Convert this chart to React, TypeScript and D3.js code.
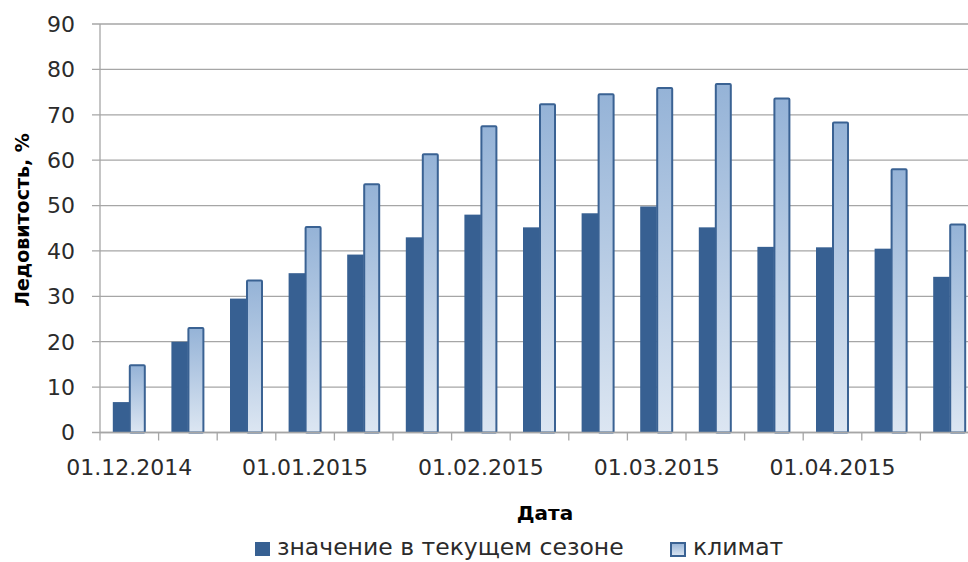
import React from "react";
import * as d3 from "d3";

// dekads (10-day periods), labelled every 3rd
const categories = [
  "01.12.2014", "11.12.2014", "21.12.2014",
  "01.01.2015", "11.01.2015", "21.01.2015",
  "01.02.2015", "11.02.2015", "21.02.2015",
  "01.03.2015", "11.03.2015", "21.03.2015",
  "01.04.2015", "11.04.2015", "21.04.2015",
];
const current = [6.7, 20, 29.5, 35.1, 39.2, 43, 48, 45.2, 48.3, 49.8, 45.2, 40.9, 40.8, 40.5, 34.3];
const climate = [14.8, 23, 33.5, 45.3, 54.7, 61.3, 67.5, 72.3, 74.5, 75.9, 76.8, 73.6, 68.3, 58, 45.8];
const yTicks = [0, 10, 20, 30, 40, 50, 60, 70, 80, 90];

const W = 968;
const H = 562;
const m = { left: 100, top: 24, right: 979, bottom: 432.5 };
const font = "'DejaVu Sans', sans-serif";
const ink = "#2b2b2b";
const grid = "#a6a6a6";

export default function App() {
  const x = d3.scaleBand<string>().domain(categories).range([m.left, m.right]);
  const y = d3.scaleLinear().domain([0, 90]).range([m.bottom, m.top]);
  const bw = 16.5;

  return (
    <div style={{ position: "absolute", left: 0, top: 0 }}>
      <svg width={W} height={H} style={{ display: "block", background: "#fff" }}>
        <defs>
          <linearGradient id="clim" x1="0" y1="0" x2="0" y2="1">
            <stop offset="0%" stopColor="#95b3d7" />
            <stop offset="100%" stopColor="#dce6f2" />
          </linearGradient>
        </defs>

        {/* gridlines + y ticks */}
        {yTicks.map((t) => (
          <g key={t}>
            <line x1={m.left - 8} x2={W} y1={y(t)} y2={y(t)} stroke={grid} strokeWidth={1.3} />
            <text x={75} y={y(t)} dy="0.36em" textAnchor="end" fontFamily={font} fontSize={22} fill={ink}>
              {t}
            </text>
          </g>
        ))}

        {/* bars */}
        {categories.map((c, i) => {
          const x0 = x(c)! + (x.bandwidth() - 2 * bw) / 2;
          return (
            <g key={c}>
              <rect x={x0} y={y(current[i])} width={bw} height={y(0) - y(current[i])} fill="#376092" />
              <rect
                x={x0 + bw + 0.5}
                y={y(climate[i])}
                width={bw - 1.5}
                height={y(0) - y(climate[i])}
                fill="url(#clim)"
                stroke="#3a6293"
                strokeWidth={2}
                rx={1}
              />
            </g>
          );
        })}

        {/* axes */}
        <line x1={m.left} x2={m.left} y1={m.top} y2={m.bottom + 8} stroke={grid} strokeWidth={1.3} />
        <line x1={m.left} x2={W} y1={y(0)} y2={y(0)} stroke={grid} strokeWidth={1.3} />
        {categories.map((c) => (
          <line key={c} x1={x(c)! + x.bandwidth()} x2={x(c)! + x.bandwidth()} y1={y(0)} y2={y(0) + 8} stroke={grid} strokeWidth={1.3} />
        ))}
        {categories.map((c, i) =>
          i % 3 === 0 ? (
            <text key={c} x={x(c)! + x.bandwidth() / 2} y={475} textAnchor="middle" fontFamily={font} fontSize={22} fill={ink}>
              {c}
            </text>
          ) : null
        )}

        {/* titles */}
        <text x={545} y={520} textAnchor="middle" fontFamily={font} fontSize={20} fontWeight="bold" fill="#000">
          Дата
        </text>
        <text transform={`translate(22,220) rotate(-90)`} dy="0.36em" textAnchor="middle" fontFamily={font} fontSize={19} fontWeight="bold" fill="#000">
          Ледовитость, %
        </text>

        {/* legend */}
        <rect x={255} y={542} width={15} height={14} fill="#376092" />
        <text x={277} y={555} fontFamily={font} fontSize={23.5} fill={ink}>
          значение в текущем сезоне
        </text>
        <rect x={671} y={543} width={14} height={13} fill="url(#clim)" stroke="#3a6293" strokeWidth={2} />
        <text x={693} y={555} fontFamily={font} fontSize={23.5} fill={ink}>
          климат
        </text>
      </svg>
    </div>
  );
}
